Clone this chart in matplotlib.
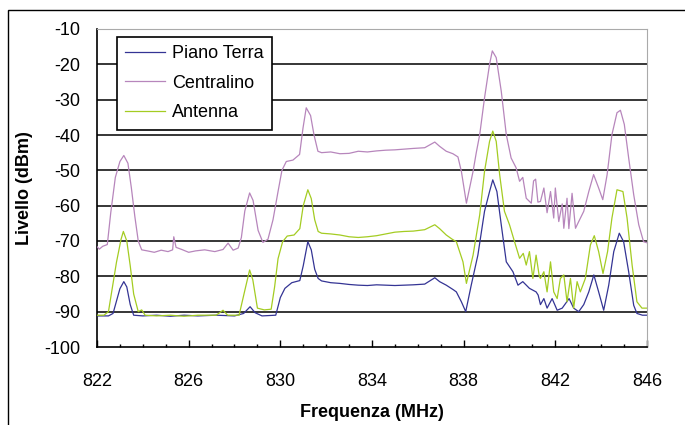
import matplotlib
matplotlib.use("Agg")
import matplotlib.pyplot as plt
from matplotlib.patches import Rectangle

plt.rcParams['font.family'] = ['Liberation Sans', 'DejaVu Sans']

# frequency (MHz) / level (dBm)
piano_f = [822.0, 822.5, 822.7, 822.85, 823.0, 823.17, 823.3, 823.45, 823.6, 824.0,
           824.6, 825.2, 825.8, 826.4, 827.2, 828.0, 828.4, 828.68, 828.9, 829.2,
           829.8, 830.0, 830.2, 830.5, 830.85, 831.0, 831.2, 831.35, 831.5, 831.65,
           831.8, 832.2, 832.6, 833.0, 833.4, 833.8, 834.2, 834.6, 835.0, 835.4,
           835.8, 836.3, 836.74, 836.95, 837.24, 837.55, 837.68, 837.9, 838.09, 838.33,
           838.62, 838.91, 839.13, 839.27, 839.45, 839.64, 839.86, 840.15, 840.37, 840.58,
           840.87, 841.16, 841.25, 841.35, 841.5, 841.64, 841.86, 842.08, 842.3, 842.6,
           842.8, 843.02, 843.24, 843.46, 843.68, 843.89, 844.11, 844.33, 844.55, 844.79,
           844.98, 845.2, 845.42, 845.56, 845.8, 846.0]
piano_db = [-91.2, -91.2, -90.5, -87, -83.5, -81.5, -83, -88, -91, -91.2,
            -91, -91.3, -91, -91.2, -91, -91.2, -90.5, -88.6, -90.3, -91.2,
            -91, -86, -83.4, -81.8, -81.2, -77, -70.2, -72.5, -78, -80.6,
            -81.3, -81.8, -82.0, -82.3, -82.5, -82.6, -82.4, -82.5, -82.6, -82.5,
            -82.4, -82.2, -80.4, -81.5, -82.5, -83.8, -84.4, -87.2, -90, -82.5,
            -74, -61.6, -56, -52.7, -56, -65.4, -75.9, -78.7, -82.5, -81.5,
            -83.4, -84.4, -85.3, -88, -86.3, -89, -86.3, -89.6, -89, -86.3,
            -89, -90, -88, -84.4, -79.6, -84.4, -89.6, -82.5, -73, -67.8,
            -70.2, -78.7, -88.2, -90.5, -91, -91]

centr_f = [822.0, 822.1, 822.25, 822.45, 822.6, 822.8, 823.0, 823.17, 823.35, 823.5,
           823.65, 823.8, 823.95, 824.2, 824.5, 824.8, 825.1, 825.3, 825.35, 825.45,
           825.7, 826.0, 826.3, 826.7, 827.14, 827.5, 827.72, 827.94, 828.16, 828.3,
           828.45, 828.66, 828.81, 829.03, 829.24, 829.46, 829.68, 829.9, 830.07, 830.26,
           830.55, 830.84, 830.99, 831.13, 831.32, 831.47, 831.64, 831.8, 832.2, 832.6,
           833.0, 833.4, 833.8, 834.2, 834.6, 835.0, 835.4, 835.8, 836.3, 836.74,
           836.95, 837.24, 837.53, 837.75, 837.9, 838.12, 838.41, 838.55, 838.7, 838.91,
           839.13, 839.25, 839.42, 839.64, 839.86, 840.07, 840.29, 840.44, 840.58, 840.73,
           840.95, 841.05, 841.14, 841.24, 841.35, 841.5, 841.64, 841.79, 841.93, 842.0,
           842.15, 842.3, 842.37, 842.51, 842.59, 842.73, 842.88, 843.02, 843.24, 843.46,
           843.67, 843.89, 844.07, 844.26, 844.47, 844.69, 844.84, 845.01, 845.2, 845.42,
           845.64, 845.85, 846.0]
centr_db = [-71.6, -72.3, -71.5, -71, -62, -52, -47.5, -45.8, -48, -55,
            -63, -70, -72.5, -72.8, -73.2, -72.6, -73, -72.5, -68.8, -71.8,
            -72.4, -73.2, -72.8, -72.5, -73, -72.4, -70.6, -72.6, -72.0, -69,
            -61.5, -56.4, -58.5, -67, -70.4, -69.5, -64, -56, -50, -47.5,
            -47.1, -45.5, -38, -32.3, -34.5, -40, -44.6, -45.0, -44.8, -45.3,
            -45.2, -44.6, -44.8, -44.5, -44.3, -44.2, -44.0, -43.8, -43.6, -42.0,
            -43.2, -44.6, -45.3, -46.2, -50.3, -59.3, -50.3, -45, -39.9, -29.5,
            -20, -16.2, -18.1, -27.6, -39.9, -46.5, -49.3, -53.1, -52, -57.9,
            -59.3, -53, -52.5, -59, -58.8, -55, -62, -56, -63.5, -55,
            -64.5, -59.5, -66.4, -57.9, -66.5, -56.5, -66.4, -64.5, -61.6, -56,
            -51.2, -55, -58.3, -51.2, -39.9, -33.7, -33, -37, -46.5, -56.9,
            -65.4, -70.2, -70.5]

ant_f = [822.0, 822.3, 822.5, 822.65, 822.85, 823.05, 823.15, 823.3, 823.45, 823.6,
         823.8, 823.95, 824.1, 824.6, 825.2, 825.8, 826.4, 827.2, 827.5, 827.7,
         828.2, 828.45, 828.66, 828.8, 829.0, 829.3, 829.6, 829.75, 829.9, 830.1,
         830.3, 830.6, 830.85, 831.0, 831.2, 831.35, 831.5, 831.65, 831.8, 832.2,
         832.6, 833.0, 833.4, 833.8, 834.2, 834.6, 835.0, 835.4, 835.8, 836.3,
         836.74, 836.95, 837.24, 837.5, 837.68, 837.97, 838.12, 838.41, 838.7, 838.91,
         839.13, 839.27, 839.42, 839.57, 839.78, 840.0, 840.22, 840.44, 840.6, 840.73,
         840.87, 841.02, 841.16, 841.3, 841.35, 841.5, 841.64, 841.79, 841.93, 842.08,
         842.22, 842.37, 842.51, 842.66, 842.8, 842.95, 843.09, 843.31, 843.53, 843.7,
         843.89, 844.08, 844.28, 844.47, 844.69, 844.95, 845.13, 845.35, 845.56, 845.78,
         846.0]
ant_db = [-91, -91, -90, -84, -76, -69.5, -67.3, -70, -77, -85,
          -90, -89.5, -91, -91.2, -91, -91.3, -91, -91, -89.6, -91,
          -91, -84, -78.2, -81, -89, -89.5, -89.3, -83, -75, -70.2,
          -68.6, -68.3, -66.5, -60, -55.5, -58, -64, -67.3, -67.8, -68.0,
          -68.3, -68.8, -69.0, -68.8, -68.5, -68.0, -67.5, -67.3, -67.2, -66.8,
          -65.4, -66.5, -68.3, -69.5, -70.2, -75.9, -82, -74, -62.6, -50.3,
          -41.8, -38.9, -41.8, -51.2, -61.6, -65.4, -70.2, -74.9, -73.5, -76.8,
          -73, -80.6, -74, -80, -80.6, -78.7, -84.4, -75.9, -84.4, -86.3,
          -80.6, -79.6, -87.2, -80.6, -89, -81.5, -84.4, -80.6, -71.1, -68.5,
          -73, -79.2, -73, -63.5, -55.5, -56, -63.5, -76.8, -87.2, -89,
          -89]

x_ticks = [822, 826, 830, 834, 838, 842, 846]
x_minor = list(range(822, 847))
y_ticks = [-100, -90, -80, -70, -60, -50, -40, -30, -20, -10]

fig = plt.figure(figsize=(6.85, 4.25), dpi=100)
ax = fig.add_axes([97 / 685, 1 - 347 / 425, 550 / 685, 318 / 425])

# outer chart frame
fig.patches.append(Rectangle((8 / 685, -0.1), 1.2, 1.1 - 10 / 425, transform=fig.transFigure,
                             fill=False, edgecolor='black', linewidth=1.0))

ax.plot(piano_f, piano_db, color='#343494', lw=0.9, label='Piano Terra', zorder=3)
ax.plot(centr_f, centr_db, color='#B786BC', lw=0.9, label='Centralino', zorder=3)
ax.plot(ant_f, ant_db, color='#A4CC22', lw=0.9, label='Antenna', zorder=3)

ax.set_xlim(822, 846)
ax.set_ylim(-100, -10)
ax.set_xticks(x_ticks)
ax.set_xticks(x_minor, minor=True)
ax.set_yticks(y_ticks)
ax.set_xticklabels([str(v) for v in x_ticks])
ax.set_yticklabels([str(v) for v in y_ticks])

ax.grid(axis='y', color='black', lw=1.1)
for gl, v in zip(ax.get_ygridlines(), y_ticks):
    if v in (-100, -10):
        gl.set_visible(False)

for s in ['top', 'right']:
    ax.spines[s].set_color('#AAAAAA')
for s in ['left', 'bottom']:
    ax.spines[s].set_color('black')
    ax.spines[s].set_linewidth(1.2)

ax.tick_params(axis='x', which='major', direction='in', length=5, width=1, pad=19, labelsize=13)
ax.tick_params(axis='x', which='minor', direction='in', length=2.5, width=1)
ax.tick_params(axis='y', length=0, pad=12, labelsize=13)

ax.set_xlabel('Frequenza (MHz)', fontsize=13, fontweight='bold', labelpad=10)
ax.set_ylabel('Livello (dBm)', fontsize=13, fontweight='bold', labelpad=8)

leg = ax.legend(loc='upper left', bbox_to_anchor=(20 / 550, (347 - 37) / 318),
                borderaxespad=0, fancybox=False, edgecolor='black', framealpha=1,
                fontsize=13, handlelength=2.2, handletextpad=0.4, labelspacing=0.7,
                borderpad=0.45)
leg.get_frame().set_linewidth(1.2)

fig.savefig('out.png', dpi=100)
